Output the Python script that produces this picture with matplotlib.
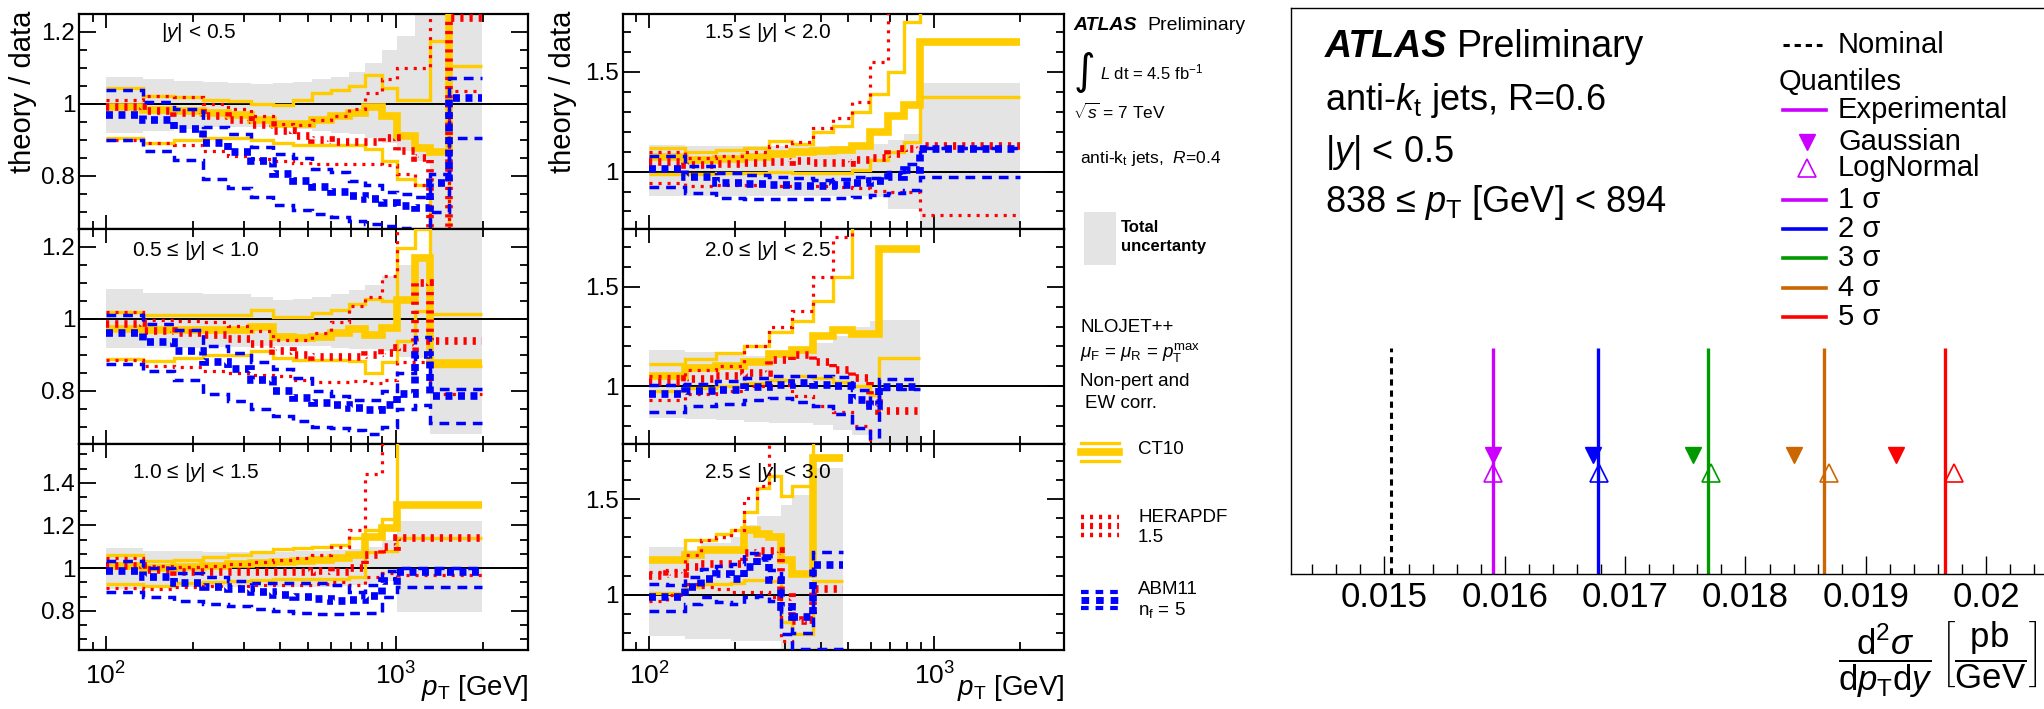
import numpy as np
import matplotlib.pyplot as plt
from matplotlib.patches import Rectangle
from matplotlib.ticker import MultipleLocator, FormatStrFormatter, NullFormatter, LogLocator

plt.rcParams['font.family'] = ['Liberation Sans', 'DejaVu Sans']
plt.rcParams['mathtext.fontset'] = 'custom'
plt.rcParams['mathtext.rm'] = 'Liberation Sans'
plt.rcParams['mathtext.it'] = 'Liberation Sans:italic'
plt.rcParams['mathtext.bf'] = 'Liberation Sans:bold'
plt.rcParams['mathtext.sf'] = 'Liberation Sans'
plt.rcParams['lines.scale_dashes'] = False

# pT bin edges (GeV)
edges_central = [100, 134, 172, 216, 264, 318, 376, 442, 516, 598, 688, 786, 894, 1012, 1162, 1310, 1530, 1992]
edges_d = [100, 134, 172, 216, 264, 318, 376, 442, 516, 598, 688, 786, 894, 1992]
edges_e = [100, 134, 172, 216, 264, 318, 376, 442, 516, 598, 642, 894]
edges_f = [100, 116, 134, 152, 172, 194, 216, 240, 264, 290, 318, 346, 376, 478]

# |y| < 0.5
a_band_hi = [1.075, 1.07, 1.065, 1.06, 1.058, 1.056, 1.058, 1.062, 1.068, 1.075, 1.09, 1.115, 1.15, 1.19, 1.25, 1.3, 1.3]
a_band_lo = [0.92, 0.925, 0.93, 0.935, 0.935, 0.935, 0.935, 0.93, 0.925, 0.92, 0.915, 0.905, 0.89, 0.87, 0.84, 0.6, 0.6]
a_ct10_up = [1.045, 1.022, 1.02, 1.012, 1.008, 1.0, 0.998, 1.012, 1.03, 1.04, 1.05, 1.08, 1.045, 1.01, 1.01, 1.174, 1.4]
a_ct10 = [0.99, 0.982, 0.98, 0.975, 0.968, 0.955, 0.945, 0.945, 0.955, 0.965, 0.975, 0.99, 0.965, 0.91, 0.876, 0.867, 1.3]
a_ct10_dn = [0.905, 0.89, 0.9, 0.905, 0.905, 0.9, 0.89, 0.886, 0.886, 0.886, 0.886, 0.875, 0.84, 0.79, 0.775, 0.6, 1.106]
a_hera_up = [1.012, 1.022, 1.018, 1.0, 0.985, 0.965, 0.945, 0.94, 0.955, 0.965, 0.985, 1.03, 1.07, 1.1, 1.1, 1.3, 1.3]
a_hera = [0.99, 0.98, 0.975, 0.965, 0.955, 0.94, 0.925, 0.91, 0.9, 0.895, 0.895, 0.895, 0.905, 0.87, 0.85, 0.6, 1.24]
a_hera_dn = [0.9, 0.89, 0.885, 0.87, 0.855, 0.848, 0.84, 0.835, 0.834, 0.834, 0.834, 0.834, 0.83, 0.805, 0.775, 0.6, 1.035]
a_abm_up = [1.04, 1.005, 0.985, 0.935, 0.915, 0.88, 0.86, 0.85, 0.82, 0.81, 0.785, 0.775, 0.755, 0.75, 0.74, 0.806, 1.072]
a_abm = [0.968, 0.955, 0.93, 0.89, 0.865, 0.84, 0.805, 0.785, 0.77, 0.755, 0.745, 0.735, 0.725, 0.715, 0.71, 0.78, 1.016]
a_abm_dn = [0.9, 0.87, 0.845, 0.79, 0.765, 0.74, 0.72, 0.705, 0.695, 0.685, 0.675, 0.665, 0.66, 0.655, 0.65, 0.7, 0.906]

# 0.5 <= |y| < 1.0
b_band_hi = [1.082, 1.072, 1.072, 1.07, 1.068, 1.06, 1.053, 1.055, 1.06, 1.068, 1.08, 1.095, 1.12, 1.15, 1.16, 1.276, 1.276]
b_band_lo = [0.918, 0.92, 0.92, 0.922, 0.922, 0.925, 0.925, 0.925, 0.925, 0.918, 0.915, 0.915, 0.91, 0.895, 0.89, 0.68, 0.68]
b_ct10_up = [1.02, 1.01, 1.01, 1.01, 1.01, 1.025, 1.005, 1.005, 1.015, 1.025, 1.04, 1.055, 1.05, 1.197, 1.25, 1.013, 1.013]
b_ct10 = [0.972, 0.968, 0.97, 0.97, 0.97, 0.978, 0.95, 0.946, 0.95, 0.96, 0.972, 0.955, 0.975, 1.053, 1.17, 0.876, 0.876]
b_ct10_dn = [0.888, 0.882, 0.89, 0.9, 0.9, 0.91, 0.89, 0.886, 0.886, 0.886, 0.884, 0.85, 0.88, 0.937, 1.023, 0.87, 0.87]
b_hera_up = [1.02, 0.997, 0.993, 0.99, 0.98, 0.965, 0.94, 0.94, 0.96, 0.99, 1.035, 1.06, 1.12, 1.3, 1.3, 1.3, 1.3]
b_hera = [0.985, 0.965, 0.96, 0.955, 0.945, 0.93, 0.91, 0.9, 0.895, 0.895, 0.895, 0.9, 0.905, 0.92, 1.1, 0.937, 0.937]
b_hera_dn = [0.885, 0.87, 0.865, 0.855, 0.848, 0.845, 0.84, 0.83, 0.825, 0.825, 0.827, 0.82, 0.83, 0.88, 0.88, 0.79, 0.79]
b_abm_up = [1.01, 0.985, 0.97, 0.925, 0.905, 0.88, 0.86, 0.835, 0.8, 0.785, 0.775, 0.774, 0.8, 0.85, 0.95, 0.806, 0.806]
b_abm = [0.96, 0.935, 0.91, 0.88, 0.86, 0.83, 0.8, 0.78, 0.765, 0.76, 0.752, 0.745, 0.76, 0.79, 0.9, 0.785, 0.785]
b_abm_dn = [0.875, 0.855, 0.83, 0.79, 0.77, 0.75, 0.73, 0.715, 0.7, 0.695, 0.69, 0.68, 0.7, 0.75, 0.76, 0.71, 0.71]

# 1.0 <= |y| < 1.5
c_band_hi = [1.095, 1.08, 1.078, 1.077, 1.077, 1.077, 1.077, 1.08, 1.082, 1.085, 1.09, 1.1, 1.13, 1.22, 1.22, 1.22, 1.22]
c_band_lo = [0.9, 0.91, 0.91, 0.912, 0.912, 0.912, 0.912, 0.912, 0.912, 0.915, 0.92, 0.93, 0.94, 0.795, 0.795, 0.795, 0.795]
c_ct10_up = [1.06, 1.035, 1.04, 1.05, 1.06, 1.075, 1.09, 1.095, 1.1, 1.108, 1.14, 1.18, 1.23, 1.65, 1.65, 1.65, 1.65]
c_ct10 = [1.01, 1.0, 1.005, 1.012, 1.02, 1.025, 1.03, 1.035, 1.04, 1.045, 1.06, 1.147, 1.19, 1.295, 1.295, 1.295, 1.295]
c_ct10_dn = [0.925, 0.915, 0.93, 0.935, 0.94, 0.945, 0.95, 0.95, 0.95, 0.95, 0.96, 1.077, 1.08, 1.14, 1.14, 1.14, 1.14]
c_hera_up = [1.045, 1.01, 1.006, 1.01, 1.02, 1.03, 1.037, 1.045, 1.06, 1.1, 1.18, 1.44, 1.65, 1.65, 1.65, 1.65, 1.65]
c_hera = [1.01, 0.99, 0.983, 0.983, 0.983, 0.983, 0.983, 0.983, 0.985, 0.98, 1.0, 1.06, 1.1, 1.14, 1.14, 1.14, 1.14]
c_hera_dn = [0.905, 0.9, 0.913, 0.915, 0.918, 0.92, 0.92, 0.92, 0.925, 0.935, 0.92, 0.96, 0.975, 0.967, 0.967, 0.967, 0.967]
c_abm_up = [1.035, 1.0, 0.975, 0.96, 0.94, 0.93, 0.93, 0.93, 0.93, 0.92, 0.89, 0.92, 0.985, 1.0, 1.0, 1.0, 1.0]
c_abm = [0.985, 0.96, 0.93, 0.91, 0.9, 0.89, 0.875, 0.865, 0.855, 0.845, 0.85, 0.87, 0.94, 0.983, 0.983, 0.983, 0.983]
c_abm_dn = [0.89, 0.865, 0.845, 0.83, 0.82, 0.81, 0.8, 0.79, 0.785, 0.785, 0.79, 0.79, 0.865, 0.913, 0.913, 0.913, 0.913]

# 1.5 <= |y| < 2.0
d_band_hi = [1.135, 1.13, 1.13, 1.13, 1.13, 1.13, 1.13, 1.13, 1.135, 1.14, 1.16, 1.19, 1.443]
d_band_lo = [0.877, 0.878, 0.878, 0.878, 0.878, 0.878, 0.878, 0.878, 0.878, 0.87, 0.81, 0.81, 0.7]
d_ct10_up = [1.12, 1.1, 1.11, 1.12, 1.155, 1.14, 1.2, 1.23, 1.3, 1.39, 1.5, 1.75, 1.9]
d_ct10 = [1.075, 1.06, 1.065, 1.075, 1.09, 1.1, 1.105, 1.11, 1.13, 1.2, 1.28, 1.335, 1.65]
d_ct10_dn = [0.99, 0.99, 0.993, 0.995, 1.0, 0.993, 0.993, 0.995, 1.01, 1.06, 1.1, 1.15, 1.373]
d_hera_up = [1.1, 1.068, 1.08, 1.1, 1.127, 1.15, 1.22, 1.27, 1.35, 1.55, 1.9, 1.9, 1.9]
d_hera = [1.05, 1.035, 1.04, 1.045, 1.05, 1.055, 1.045, 1.045, 1.06, 1.07, 1.09, 1.113, 1.127]
d_hera_dn = [0.945, 0.927, 0.935, 0.935, 0.93, 0.93, 0.927, 0.925, 0.92, 0.905, 0.9, 0.9, 0.782]
d_abm_up = [1.08, 1.03, 0.995, 0.985, 0.975, 0.97, 0.96, 0.965, 0.975, 0.97, 1.0, 1.04, 1.12]
d_abm = [1.015, 0.975, 0.945, 0.94, 0.935, 0.93, 0.927, 0.935, 0.945, 0.955, 0.975, 1.01, 1.115]
d_abm_dn = [0.925, 0.893, 0.865, 0.862, 0.86, 0.862, 0.863, 0.865, 0.87, 0.88, 0.895, 0.91, 0.975]

# 2.0 <= |y| < 2.5
e_band_hi = [1.183, 1.17, 1.16, 1.15, 1.15, 1.18, 1.215, 1.25, 1.3, 1.33, 1.333]
e_band_lo = [0.842, 0.835, 0.832, 0.82, 0.815, 0.815, 0.805, 0.78, 0.755, 0.72, 0.717]
e_ct10_up = [1.11, 1.135, 1.165, 1.2, 1.27, 1.33, 1.43, 1.55, 1.85, 1.85, 1.85]
e_ct10 = [1.05, 1.09, 1.1, 1.12, 1.16, 1.18, 1.25, 1.28, 1.26, 1.26, 1.69]
e_ct10_dn = [0.975, 0.99, 1.0, 1.015, 1.03, 1.05, 1.04, 1.02, 1.0, 0.958, 1.14]
e_hera_up = [1.05, 1.08, 1.1, 1.2, 1.3, 1.38, 1.55, 1.75, 1.9, 1.9, 1.9]
e_hera = [1.02, 1.035, 1.05, 1.065, 1.13, 1.155, 1.12, 1.08, 1.04, 0.917, 0.875]
e_hera_dn = [0.93, 0.96, 0.975, 1.0, 1.005, 0.95, 0.9, 0.87, 0.8, 0.7, 0.7]
e_abm_up = [1.008, 1.01, 1.025, 1.04, 1.05, 1.05, 1.05, 1.045, 0.98, 0.91, 1.035]
e_abm = [0.96, 0.975, 0.98, 0.998, 1.005, 1.015, 1.005, 1.0, 0.93, 0.9, 0.995]
e_abm_dn = [0.87, 0.9, 0.91, 0.93, 0.94, 0.92, 0.9, 0.86, 0.79, 0.7, 0.985]

# 2.5 <= |y| < 3.0
f_band_hi = [1.25, 1.25, 1.233, 1.268, 1.268, 1.3, 1.365, 1.41, 1.41, 1.47, 1.523, 1.523, 1.66]
f_band_lo = [0.786, 0.786, 0.77, 0.77, 0.77, 0.76, 0.76, 0.76, 0.76, 0.7, 0.7, 0.7, 0.7]
f_ct10_up = [1.184, 1.184, 1.286, 1.286, 1.32, 1.34, 1.435, 1.558, 1.62, 1.514, 1.567, 1.567, 1.9]
f_ct10 = [1.18, 1.18, 1.207, 1.233, 1.233, 1.233, 1.339, 1.32, 1.3, 1.18, 1.11, 1.11, 1.716]
f_ct10_dn = [1.01, 1.01, 1.04, 1.058, 1.058, 1.06, 1.075, 1.075, 1.07, 0.856, 0.798, 0.798, 1.07]
f_hera_up = [1.12, 1.13, 1.207, 1.286, 1.3, 1.339, 1.505, 1.567, 1.9, 1.9, 1.9, 1.9, 1.9]
f_hera = [1.1, 1.11, 1.146, 1.163, 1.163, 1.163, 1.216, 1.23, 1.23, 0.988, 0.865, 0.87, 1.03]
f_hera_dn = [0.97, 1.0, 1.058, 1.04, 1.03, 1.014, 1.014, 1.014, 0.99, 0.76, 0.65, 0.65, 0.65]
f_abm_up = [1.058, 1.05, 1.093, 1.137, 1.15, 1.16, 1.216, 1.19, 1.13, 0.9, 0.8, 0.8, 1.225]
f_abm = [0.988, 0.99, 1.04, 1.084, 1.11, 1.085, 1.146, 1.19, 1.075, 0.935, 0.882, 0.882, 1.154]
f_abm_dn = [0.918, 0.918, 0.953, 0.988, 0.96, 0.95, 0.988, 0.995, 0.97, 0.795, 0.716, 0.716, 0.716]

# cross-section quantiles, 838 <= pT < 894 GeV, |y| < 0.5 (pb/GeV)
sigma_labels = ['1 σ', '2 σ', '3 σ', '4 σ', '5 σ']
sigma_colors = ['#cc00ff', '#0000ff', '#009900', '#cc6600', '#ff0000']
nominal = 0.015053
experimental = [0.015902, 0.016771, 0.017686, 0.018653, 0.019658]
gaussian = [0.015902, 0.016734, 0.017567, 0.018407, 0.019248]
lognormal = [0.015902, 0.016784, 0.017710, 0.018698, 0.019731]

YELLOW = '#ffcc00'
RED = '#ff0000'
BLUE = '#0000ff'
GREY = '#e4e4e4'

W, H = 2044, 709
fig = plt.figure(figsize=(W / 100, H / 100), dpi=100)


def box(x0, y0, x1, y1):
    # axes placed by pixel corners, y measured from the top
    return fig.add_axes([x0 / W, 1 - y1 / H, (x1 - x0) / W, (y1 - y0) / H])


def ratio_panel(ax, edges, band_hi, band_lo, ct10, hera, abm, ylim, major, minor, bottom):
    ax.stairs(band_hi, edges, baseline=band_lo, fill=True, color=GREY, lw=0, zorder=1)
    ax.axhline(1, color='black', lw=1.4, zorder=2)
    up, cen, dn = ct10
    ax.stairs(up, edges, baseline=None, color=YELLOW, lw=2.4, zorder=3)
    ax.stairs(dn, edges, baseline=None, color=YELLOW, lw=2.4, zorder=3)
    ax.stairs(cen, edges, baseline=None, color=YELLOW, lw=5.5, zorder=3)
    up, cen, dn = hera
    ax.stairs(up, edges, baseline=None, color=RED, lw=2.3, ls=(0, (2.2, 4.3)), zorder=4)
    ax.stairs(dn, edges, baseline=None, color=RED, lw=2.3, ls=(0, (2.2, 4.3)), zorder=4)
    ax.stairs(cen, edges, baseline=None, color=RED, lw=5.5, ls=(0, (2.3, 4.3)), zorder=4)
    up, cen, dn = abm
    ax.stairs(up, edges, baseline=None, color=BLUE, lw=2.5, ls=(0, (7, 5)), zorder=5)
    ax.stairs(dn, edges, baseline=None, color=BLUE, lw=2.5, ls=(0, (7, 5)), zorder=5)
    ax.stairs(cen, edges, baseline=None, color=BLUE, lw=5.5, ls=(0, (5, 4)), zorder=5)

    ax.set_xscale('log')
    ax.set_xlim(81, 2860)
    ax.set_ylim(*ylim)
    ax.xaxis.set_major_locator(LogLocator(base=10))
    ax.xaxis.set_minor_formatter(NullFormatter())
    ax.yaxis.set_major_locator(MultipleLocator(major))
    ax.yaxis.set_minor_locator(MultipleLocator(minor))
    ax.yaxis.set_major_formatter(FormatStrFormatter('%g'))
    ax.tick_params(which='both', direction='in', top=True, right=True, width=1.3,
                   labelsize=17.5, labelbottom=bottom)
    ax.tick_params(axis='y', which='major', length=12, pad=3)
    ax.tick_params(axis='y', which='minor', length=6)
    ax.tick_params(axis='x', which='major', length=10, pad=9, labelsize=19)
    ax.tick_params(axis='x', which='minor', length=6)
    for s in ax.spines.values():
        s.set_linewidth(1.6)


left_x = (79.3, 527.9)
mid_x = (622.9, 1064.3)
rows = [(14, 229), (229, 443.5), (443.5, 650)]

ax_a = box(left_x[0], rows[0][0], left_x[1], rows[0][1])
ratio_panel(ax_a, edges_central, a_band_hi, a_band_lo, (a_ct10_up, a_ct10, a_ct10_dn),
            (a_hera_up, a_hera, a_hera_dn), (a_abm_up, a_abm, a_abm_dn), (0.652, 1.25), 0.2, 0.05, False)
ax_b = box(left_x[0], rows[1][0], left_x[1], rows[1][1])
ratio_panel(ax_b, edges_central, b_band_hi, b_band_lo, (b_ct10_up, b_ct10, b_ct10_dn),
            (b_hera_up, b_hera, b_hera_dn), (b_abm_up, b_abm, b_abm_dn), (0.653, 1.25), 0.2, 0.05, False)
ax_c = box(left_x[0], rows[2][0], left_x[1], rows[2][1])
ratio_panel(ax_c, edges_central, c_band_hi, c_band_lo, (c_ct10_up, c_ct10, c_ct10_dn),
            (c_hera_up, c_hera, c_hera_dn), (c_abm_up, c_abm, c_abm_dn), (0.616, 1.584), 0.2, 0.2 / 3, True)
ax_d = box(mid_x[0], rows[0][0], mid_x[1], rows[0][1])
ratio_panel(ax_d, edges_d, d_band_hi, d_band_lo, (d_ct10_up, d_ct10, d_ct10_dn),
            (d_hera_up, d_hera, d_hera_dn), (d_abm_up, d_abm, d_abm_dn), (0.712, 1.79), 0.5, 0.1, False)
ax_e = box(mid_x[0], rows[1][0], mid_x[1], rows[1][1])
ratio_panel(ax_e, edges_e, e_band_hi, e_band_lo, (e_ct10_up, e_ct10, e_ct10_dn),
            (e_hera_up, e_hera, e_hera_dn), (e_abm_up, e_abm, e_abm_dn), (0.712, 1.79), 0.5, 0.1, False)
ax_f = box(mid_x[0], rows[2][0], mid_x[1], rows[2][1])
ratio_panel(ax_f, edges_f, f_band_hi, f_band_lo, (f_ct10_up, f_ct10, f_ct10_dn),
            (f_hera_up, f_hera, f_hera_dn), (f_abm_up, f_abm, f_abm_dn), (0.712, 1.79), 0.5, 0.1, True)

# right-hand plot: quantile positions of the cross section
ax_q = box(1290.7, 8, 2044, 574)
ax_q.set_xlim(0.014221, 0.020481)
ax_q.set_ylim(0, 1)
line_top = 0.4
gauss_y = 0.21
logn_y = 0.178
ax_q.vlines(nominal, 0, line_top, colors='black', lw=2.2, linestyles=(0, (4.5, 3.5)))
ax_q.vlines(experimental, 0, line_top, colors=sigma_colors, lw=2.4)
for xg, xl, col in zip(gaussian, lognormal, sigma_colors):
    ax_q.plot(xg, gauss_y, marker='v', ms=12, color=col, ls='none', zorder=4)
    ax_q.plot(xl, logn_y, marker='^', ms=13, mfc='none', mec=col, mew=1.2, ls='none', zorder=4)
ax_q.spines['right'].set_visible(False)
for s in ['left', 'top', 'bottom']:
    ax_q.spines[s].set_linewidth(1.0)
ax_q.xaxis.set_major_locator(MultipleLocator(0.001))
ax_q.xaxis.set_minor_locator(MultipleLocator(0.0002))
ax_q.xaxis.set_major_formatter(FormatStrFormatter('%g'))
ax_q.tick_params(axis='x', which='both', direction='in', labelsize=25, pad=5, width=1)
ax_q.tick_params(axis='x', which='major', length=13)
ax_q.tick_params(axis='x', which='minor', length=7)
ax_q.set_yticks([])

# overlay in figure pixels for the free text and legend keys
ov = fig.add_axes([0, 0, 1, 1])
ov.set_xlim(0, W)
ov.set_ylim(H, 0)
ov.axis('off')
ov.patch.set_visible(False)

for x in (23, 563):
    ov.text(x, 11, 'theory / data', rotation=90, ha='center', va='top', fontsize=21)
ov.text(528, 688, r'$p_{\mathrm{T}}$ [GeV]', ha='right', va='center', fontsize=20)
ov.text(1064, 688, r'$p_{\mathrm{T}}$ [GeV]', ha='right', va='center', fontsize=20)

titles = [(160.7, 32, r'$|y|$ < 0.5'), (132, 250, r'0.5 ≤ $|y|$ < 1.0'), (132, 472, r'1.0 ≤ $|y|$ < 1.5'),
          (704, 33, r'1.5 ≤ $|y|$ < 2.0'), (704, 250, r'2.0 ≤ $|y|$ < 2.5'), (704, 472, r'2.5 ≤ $|y|$ < 3.0')]
for x, y, s in titles:
    ov.text(x, y, s, ha='left', va='center', fontsize=15, zorder=10)

# middle legend column
t = ov.text(1073, 25, 'ATLAS', fontsize=14, fontweight='bold', fontstyle='italic', va='center')
ov.annotate('Preliminary', xy=(1, 0.5), xycoords=t, xytext=(8, 0), textcoords='offset points',
            va='center', fontsize=14)
ov.text(1074, 72, '∫', fontsize=30, va='center', family='DejaVu Sans')
ov.text(1100, 72, r'$L$ dt = 4.5 fb$^{-1}$', fontsize=12, va='center')
ov.text(1073, 112, r'$\sqrt{s}$ = 7 TeV', fontsize=12.5, va='center')
ov.text(1080, 158, r'anti-k$_{\mathrm{t}}$ jets,  $R$=0.4', fontsize=12.5, va='center')
ov.add_patch(Rectangle((1084, 212), 32, 53, color=GREY, lw=0))
ov.text(1121, 228, 'Total', fontsize=12, fontweight='bold', va='center')
ov.text(1121, 247, 'uncertanty', fontsize=12, fontweight='bold', va='center')
ov.text(1080, 328, 'NLOJET++', fontsize=13.5, va='center')
ov.text(1080, 353, r'$\mu_{\mathrm{F}}$ = $\mu_{\mathrm{R}}$ = $p_{\mathrm{T}}^{\mathrm{max}}$', fontsize=13.5, va='center')
ov.text(1080, 381, 'Non-pert and', fontsize=13.5, va='center')
ov.text(1085, 403, 'EW corr.', fontsize=13.5, va='center')

key_x = [1081, 1119]
ov.plot(key_x, [443, 443], color=YELLOW, lw=2.4)
ov.plot(key_x, [452, 452], color=YELLOW, lw=5.5)
ov.plot(key_x, [461, 461], color=YELLOW, lw=2.4)
ov.text(1138, 450, 'CT10', fontsize=13.5, va='center')
ov.plot(key_x, [517, 517], color=RED, lw=3.2, ls=(0, (2.2, 4.3)))
ov.plot(key_x, [526, 526], color=RED, lw=4.5, ls=(0, (2.2, 4.3)))
ov.plot(key_x, [535, 535], color=RED, lw=3.2, ls=(0, (2.2, 4.3)))
ov.text(1138, 517, 'HERAPDF', fontsize=13.5, va='center')
ov.text(1138, 537, '1.5', fontsize=13.5, va='center')
ov.plot(key_x, [592, 592], color=BLUE, lw=3, ls=(0, (5.5, 5)))
ov.plot(key_x, [600, 600], color=BLUE, lw=5, ls=(0, (5.5, 5)))
ov.plot(key_x, [608, 608], color=BLUE, lw=3, ls=(0, (5.5, 5)))
ov.text(1138, 590, 'ABM11', fontsize=13.5, va='center')
ov.text(1138, 610, r'n$_{\mathrm{f}}$ = 5', fontsize=13.5, va='center')

# right plot labels
t = ov.text(1325, 47, 'ATLAS', fontsize=27, fontweight='bold', fontstyle='italic', va='center')
ov.annotate('Preliminary', xy=(1, 0.5), xycoords=t, xytext=(7, 0), textcoords='offset points',
            va='center', fontsize=27)
ov.text(1325, 100, r'anti-$k_{\mathrm{t}}$ jets, R=0.6', fontsize=26, va='center')
ov.text(1325, 152, r'$|y|$ < 0.5', fontsize=26, va='center')
ov.text(1325, 203, r'838 ≤ $p_{\mathrm{T}}$ [GeV] < 894', fontsize=26, va='center')

leg_x = [1783, 1826]
ov.plot([1783, 1822], [45, 45], color='black', lw=2.2, ls=(0, (4.5, 3.5)))
ov.text(1838, 45, 'Nominal', fontsize=21, va='center')
ov.text(1779, 82, 'Quantiles', fontsize=21, va='center')
ov.plot(leg_x, [110, 110], color=sigma_colors[0], lw=2.6)
ov.text(1838, 110, 'Experimental', fontsize=21, va='center')
ov.plot(1807, 142, marker='v', ms=12, color=sigma_colors[0])
ov.text(1838, 142, 'Gaussian', fontsize=21, va='center')
ov.plot(1807, 168, marker='^', ms=13, mfc='none', mec=sigma_colors[0], mew=1.2)
ov.text(1838, 168, 'LogNormal', fontsize=21, va='center')
for i, (lab, col) in enumerate(zip(sigma_labels, sigma_colors)):
    y = 200 + 29.2 * i
    ov.plot(leg_x, [y, y], color=col, lw=2.6)
    ov.text(1838, y, lab, fontsize=21, va='center')

ov.text(2038, 660, r'$\dfrac{\mathrm{d}^{2}\sigma}{\mathrm{d}p_{\mathrm{T}}\mathrm{d}y}\;'
        r'\left[\dfrac{\mathrm{pb}}{\mathrm{GeV}}\right]$', fontsize=25, ha='right', va='center')

fig.savefig('out.png', dpi=100)
